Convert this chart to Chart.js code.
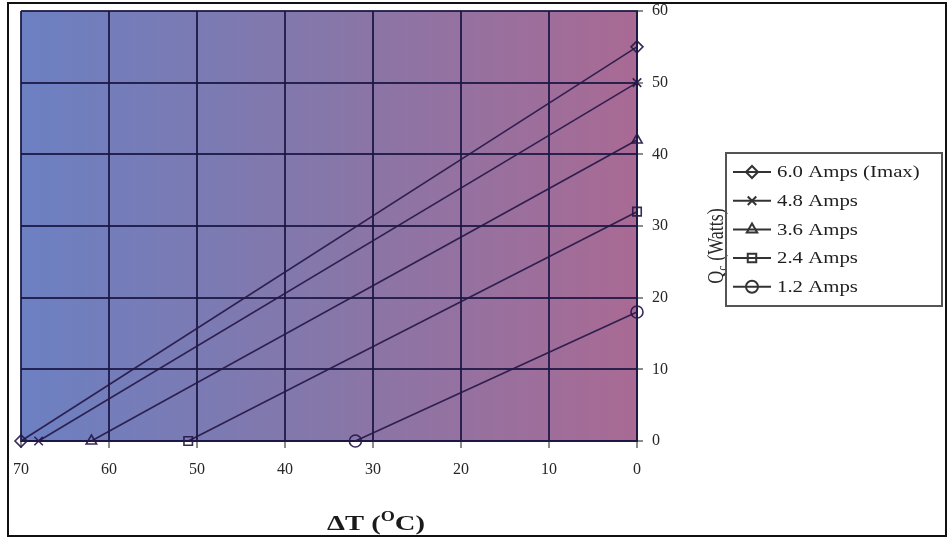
<!DOCTYPE html>
<html>
<head>
<meta charset="utf-8">
<script src="https://cdn.jsdelivr.net/npm/chart.js@4.4.0/dist/chart.umd.min.js"></script>
<style>
  html, body { margin: 0; padding: 0; background: #fff; }
  #wrap { width: 949px; height: 540px; }
</style>
</head>
<body>
<div id="wrap"><canvas id="chart" width="949" height="540"></canvas></div>
<script>
// series names, x intercept (Q=0) and y intercept (dT=0) for each current
const seriesNames = ["6.0 Amps (Imax)", "4.8 Amps", "3.6 Amps", "2.4 Amps", "1.2 Amps"];
const deltaTmax = [70, 68, 62, 51, 32];
const qMax = [55, 50, 42, 32, 18];
const markers = ["rectRot", "crossRot", "triangle", "rect", "circle"];

// axis ticks
const xMin = 0, xMax = 70, xStep = 10;
const yMin = 0, yMax = 60, yStep = 10;

const lineColor = "rgba(38,24,72,0.92)";
const gridColor = "rgba(26,22,66,0.88)";
const serif = "'Liberation Serif', 'DejaVu Serif', serif";

let datasets = [];
for (let i = 0; i < seriesNames.length; i++) {
  datasets.push({
    label: seriesNames[i],
    data: [{x: deltaTmax[i], y: 0}, {x: 0, y: qMax[i]}],
    borderColor: lineColor,
    borderWidth: 1.6,
    pointStyle: markers[i],
    pointRadius: 6,
    pointBorderWidth: 1.6,
    pointBorderColor: lineColor,
    pointBackgroundColor: "rgba(0,0,0,0)",
    fill: false,
    clip: false
  });
}

// draws text stretched sideways a bit, like the scanned picture
function wideText(ctx, txt, x, y, sx) {
  ctx.save();
  ctx.translate(x, y);
  ctx.scale(sx, 1);
  ctx.fillText(txt, 0, 0);
  ctx.restore();
}

const decor = {
  id: "decor",
  beforeDraw(chart) {
    const ctx = chart.ctx, a = chart.chartArea;
    ctx.save();
    ctx.fillStyle = "#fff";
    ctx.fillRect(0, 0, chart.width, chart.height);
    let g = ctx.createLinearGradient(a.left, 0, a.right, 0);
    g.addColorStop(0, "#6c80c2");
    g.addColorStop(0.5, "#8677a9");
    g.addColorStop(1, "#a96a94");
    ctx.fillStyle = g;
    ctx.fillRect(a.left, a.top, a.right - a.left, a.bottom - a.top);
    ctx.restore();
  },
  afterDraw(chart) {
    const ctx = chart.ctx;
    ctx.save();
    // outer frame
    ctx.strokeStyle = "#111";
    ctx.lineWidth = 2;
    ctx.strokeRect(8, 3, 938, 533);

    // x title
    ctx.fillStyle = "#1a1a1a";
    ctx.textBaseline = "alphabetic";
    ctx.textAlign = "left";
    const sx = 1.3;
    ctx.font = "bold 22px " + serif;
    let p1 = "\u0394T (", p3 = "C)";
    let w1 = ctx.measureText(p1).width * sx;
    let w3 = ctx.measureText(p3).width * sx;
    ctx.font = "bold 14px " + serif;
    let w2 = ctx.measureText("O").width * sx;
    let x0 = 376 - (w1 + w2 + w3) / 2, base = 530;
    ctx.font = "bold 22px " + serif;
    wideText(ctx, p1, x0, base, sx);
    ctx.font = "bold 14px " + serif;
    wideText(ctx, "O", x0 + w1, base - 9, sx);
    ctx.font = "bold 22px " + serif;
    wideText(ctx, p3, x0 + w1 + w2, base, sx);

    // y title, reads bottom to top
    ctx.save();
    ctx.translate(723, 246);
    ctx.rotate(-Math.PI / 2);
    ctx.scale(1, 1.25);
    ctx.fillStyle = "#2a2a2a";
    ctx.font = "18px " + serif;
    let qw = ctx.measureText("Q").width;
    let rest = " (Watts)";
    let rw = ctx.measureText(rest).width;
    ctx.font = "12px " + serif;
    let cw = ctx.measureText("c").width;
    let sxx = -(qw + cw + rw) / 2;
    ctx.font = "18px " + serif;
    ctx.fillText("Q", sxx, 0);
    ctx.font = "12px " + serif;
    ctx.fillText("c", sxx + qw, 3);
    ctx.font = "18px " + serif;
    ctx.fillText(rest, sxx + qw + cw, 0);
    ctx.restore();

    // legend
    ctx.strokeStyle = "#555";
    ctx.lineWidth = 2;
    ctx.strokeRect(726, 153, 216, 153);
    chart.data.datasets.forEach(function(ds, i) {
      let y = 172 + i * 28.7;
      ctx.strokeStyle = "#333";
      ctx.lineWidth = 2;
      ctx.beginPath();
      ctx.moveTo(733, y);
      ctx.lineTo(771, y);
      ctx.stroke();
      ctx.fillStyle = "rgba(0,0,0,0)";
      Chart.helpers.drawPoint(ctx, {pointStyle: ds.pointStyle, radius: 6, rotation: 0, borderWidth: 1.6}, 752, y);
      ctx.fillStyle = "#1e1e1e";
      ctx.font = "16px " + serif;
      ctx.textBaseline = "middle";
      wideText(ctx, ds.label, 777, y + 1, 1.3);
    });
    ctx.restore();
  }
};

new Chart(document.getElementById("chart"), {
  type: "line",
  data: { datasets: datasets },
  options: {
    responsive: false,
    animation: false,
    layout: { padding: { left: 21, top: 11, right: 0, bottom: 0 } },
    plugins: {
      legend: { display: false },
      tooltip: { enabled: false }
    },
    scales: {
      x: {
        type: "linear",
        reverse: true,
        min: xMin,
        max: xMax,
        afterFit: function(s) { s.height = 99; s.paddingLeft = 0; s.paddingRight = 0; },
        ticks: { stepSize: xStep, color: "#262626", padding: 12, font: { family: serif, size: 16 } },
        grid: { color: gridColor, lineWidth: 2, tickLength: 7, tickColor: "#666", tickWidth: 1.5 },
        border: { display: true, color: gridColor, width: 2 }
      },
      y: {
        position: "right",
        min: yMin,
        max: yMax,
        afterFit: function(s) { s.width = 312; s.paddingTop = 0; s.paddingBottom = 0; },
        ticks: { stepSize: yStep, color: "#262626", padding: 9, font: { family: serif, size: 16 } },
        grid: { color: gridColor, lineWidth: 2, tickLength: 6, tickColor: "#666", tickWidth: 1.5 },
        border: { display: true, color: gridColor, width: 2 }
      }
    }
  },
  plugins: [decor]
});
</script>
</body>
</html>
